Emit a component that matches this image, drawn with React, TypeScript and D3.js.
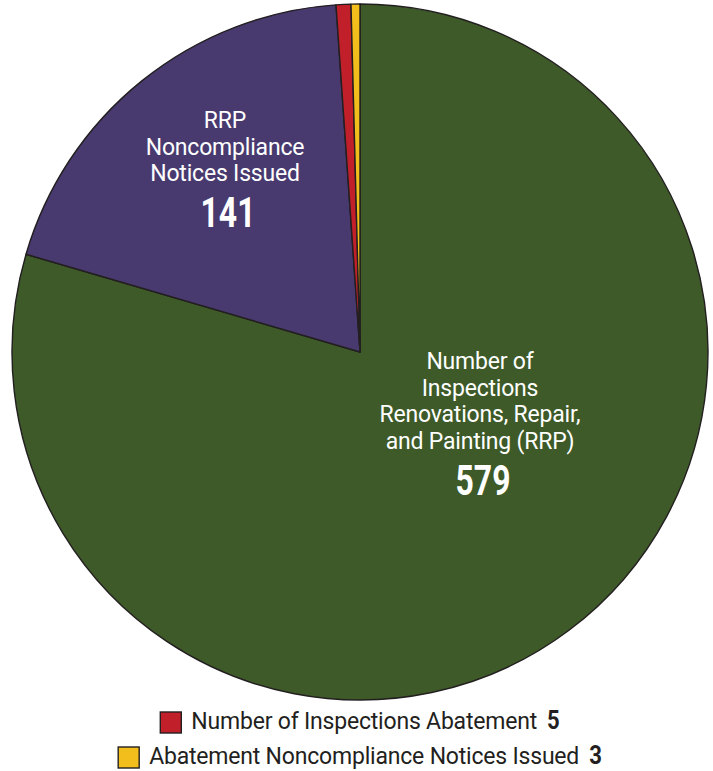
import React, { useEffect, useRef } from "react";
import * as d3 from "d3";

const categories = [
  "Number of Inspections Renovations, Repair, and Painting (RRP)",
  "RRP Noncompliance Notices Issued",
  "Number of Inspections Abatement",
  "Abatement Noncompliance Notices Issued",
];
const values = [579, 141, 5, 3];
const colors = ["#3d5a28", "#483a6f", "#c1202a", "#f2be1b"];
const sliceLabelLines = [
  ["Number of", "Inspections", "Renovations, Repair,", "and Painting (RRP)"],
  ["RRP", "Noncompliance", "Notices Issued"],
  [],
  [],
];
const legendItems = [2, 3];

const W = 713;
const H = 771;

export default function App() {
  const ref = useRef<SVGSVGElement | null>(null);

  useEffect(() => {
    const svg = d3.select(ref.current);
    svg.selectAll("*").remove();
    const cx = 360, cy = 352, r = 348;
    const data = values.map((v, i) => ({ v, i }));
    const pie = d3.pie<any>().value((d) => d.v).sort(null);
    const arcs = pie(data);
    const arc = d3.arc<any>().innerRadius(0).outerRadius(r);
    const g = svg.append("g").attr("transform", `translate(${cx},${cy})`);
    g.selectAll("path")
      .data(arcs)
      .join("path")
      .attr("d", arc)
      .attr("fill", (d) => colors[d.data.i])
      .attr("stroke", "#231f20")
      .attr("stroke-width", 1.4)
      .attr("stroke-linejoin", "round");

    const labelPos: Record<number, [number, number]> = {
      0: [480, 369],
      1: [225, 128],
    };
    const fontMain = "Roboto, 'Noto Sans', sans-serif";
    const lineH = 26.7;
    [0, 1].forEach((i) => {
      const [x, y] = labelPos[i];
      const lines = sliceLabelLines[i];
      const t = svg.append("g");
      lines.forEach((ln, k) => {
        t.append("text")
          .attr("x", x)
          .attr("y", y + k * lineH)
          .attr("text-anchor", "middle")
          .attr("fill", "#ffffff")
          .attr("font-family", fontMain)
          .attr("font-size", 23)
          .attr("letter-spacing", -0.2)
          .text(ln);
      });
      t.append("g")
        .attr("transform", `translate(${x + 3},${y + (lines.length - 1) * lineH + 46}) scale(0.76,1)`)
        .append("text")
        .attr("text-anchor", "middle")
        .attr("fill", "#ffffff")
        .attr("font-family", fontMain)
        .attr("font-weight", 700)
        .attr("font-size", 42)
        .text(String(values[i]));
    });

    // legend
    const legY = [712, 747];
    legendItems.forEach((ci, k) => {
      const lg = svg.append("g");
      const txt = lg.append("text")
        .attr("y", legY[k] + 17)
        .attr("fill", "#231f20")
        .attr("font-family", fontMain)
        .attr("font-size", 23)
        .attr("letter-spacing", -0.2)
        .text(categories[ci]);
      const numG = lg.append("g");
      const num = numG.append("text")
        .attr("fill", "#231f20")
        .attr("font-family", fontMain)
        .attr("font-weight", 700)
        .attr("font-size", 26)
        .text(String(values[ci]));
      const sx = 0.85;
      const tw = (txt.node() as SVGTextElement).getComputedTextLength();
      const nw = (num.node() as SVGTextElement).getComputedTextLength() * sx;
      const box = 21, gap1 = 10, gap2 = 10;
      const total = box + gap1 + tw + gap2 + nw;
      const x0 = 360 - total / 2;
      lg.insert("rect", "text")
        .attr("x", x0)
        .attr("y", legY[k])
        .attr("width", box)
        .attr("height", box)
        .attr("fill", colors[ci])
        .attr("stroke", "#231f20")
        .attr("stroke-width", 1.4);
      txt.attr("x", x0 + box + gap1);
      numG.attr("transform", `translate(${x0 + box + gap1 + tw + gap2},${legY[k] + 17}) scale(${sx},1)`);
    });
  }, []);

  return (
    <svg
      ref={ref}
      width={W}
      height={H}
      style={{ position: "absolute", left: 0, top: 0, display: "block" }}
    />
  );
}
